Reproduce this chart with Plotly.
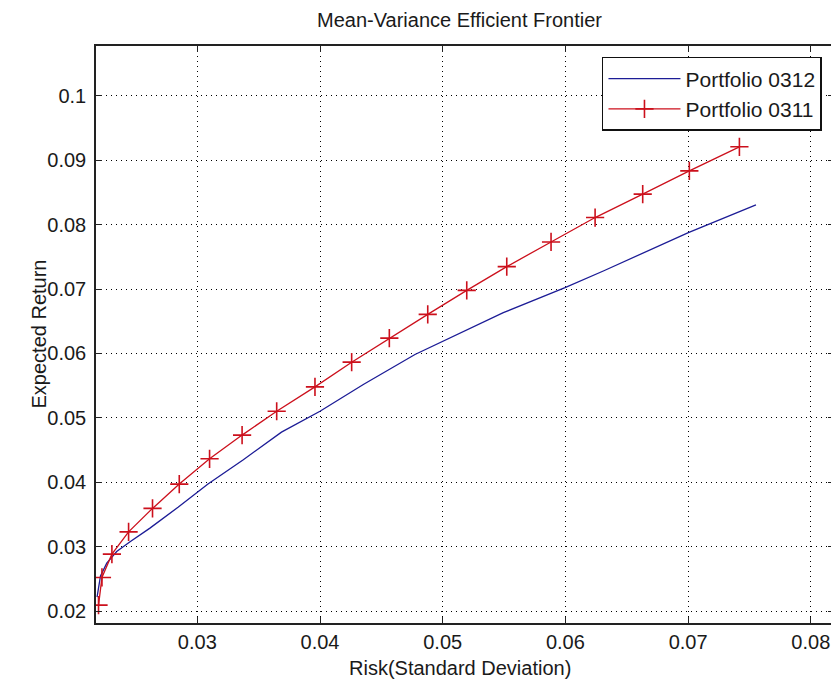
import plotly.graph_objects as go

# Portfolio 0311 (line with + markers)
risk_0311 = [0.02195, 0.02223, 0.02304, 0.02440, 0.02635, 0.02853, 0.03100, 0.03365,
             0.03647, 0.03959, 0.04258, 0.04565, 0.04878, 0.05196, 0.05522, 0.05883,
             0.06242, 0.06630, 0.07010, 0.07418]
ret_0311 = [0.02093, 0.02523, 0.02885, 0.03231, 0.03595, 0.03972, 0.04365, 0.04733,
            0.05103, 0.05482, 0.05865, 0.06238, 0.06607, 0.06980, 0.07348, 0.07731,
            0.08110, 0.08473, 0.08835, 0.09208]

# Portfolio 0312 (line only)
risk_0312 = [0.02183, 0.02195, 0.02211, 0.02262, 0.02343, 0.02452, 0.02614, 0.02843,
             0.03087, 0.03375, 0.03686, 0.04000, 0.04353, 0.04774, 0.05005, 0.05494,
             0.05997, 0.06309, 0.07002, 0.07553]
ret_0312 = [0.02219, 0.02361, 0.02547, 0.02745, 0.02925, 0.03076, 0.03289, 0.03613,
            0.03975, 0.04351, 0.04779, 0.05103, 0.05518, 0.05984, 0.06191, 0.06633,
            0.07022, 0.07280, 0.07877, 0.08306]

x_ticks = [0.03, 0.04, 0.05, 0.06, 0.07, 0.08]
x_tick_labels = ["0.03", "0.04", "0.05", "0.06", "0.07", "0.08"]
y_ticks = [0.02, 0.03, 0.04, 0.05, 0.06, 0.07, 0.08, 0.09, 0.1]
y_tick_labels = ["0.02", "0.03", "0.04", "0.05", "0.06", "0.07", "0.08", "0.09", "0.1"]

title_text = "Mean-Variance Efficient Frontier"
x_title = "Risk(Standard Deviation)"
y_title = "Expected Return"

FONT = "Liberation Sans, Arial, sans-serif"
TXT = "#1a1a1a"

fig = go.Figure()
fig.add_trace(go.Scatter(
    x=risk_0312, y=ret_0312, mode="lines", name="Portfolio 0312",
    line=dict(color="#1c1c96", width=1.3),
))
fig.add_trace(go.Scatter(
    x=risk_0311, y=ret_0311, mode="lines+markers", name="Portfolio 0311",
    line=dict(color="#cc101c", width=1.3),
    marker=dict(symbol="cross-thin-open", size=13, color="#cc101c",
                line=dict(color="#cc101c", width=1.6)),
))

axis_common = dict(
    showline=True, linecolor="#222222", linewidth=1.5, mirror="ticks",
    ticks="inside", ticklen=6, tickcolor="#222222", tickwidth=1.2,
    showgrid=True, gridcolor="#000000", gridwidth=1, griddash="1px,4px",
    zeroline=False, tickfont=dict(family=FONT, size=20, color=TXT),
)

fig.update_xaxes(range=[0.021744, 0.08189], tickvals=x_ticks, ticktext=x_tick_labels,
                 ticklabelstandoff=0, **axis_common)
fig.update_yaxes(range=[0.01816, 0.10773], tickvals=y_ticks, ticktext=y_tick_labels,
                 ticklabelstandoff=4, **axis_common)

fig.update_layout(
    width=834, height=687,
    margin=dict(l=96, r=0, t=46, b=64, autoexpand=False),
    paper_bgcolor="white", plot_bgcolor="white",
    font=dict(family=FONT, size=20, color=TXT),
    showlegend=True,
    legend=dict(
        x=0.9837, y=0.981, xanchor="right", yanchor="top",
        bgcolor="white", bordercolor="#111111", borderwidth=1.5,
        font=dict(family=FONT, size=21, color=TXT),
        itemwidth=72, tracegroupgap=0,
    ),
    annotations=[
        dict(text=title_text, xref="paper", yref="paper", x=0.4932, y=1 + (46 - 20) / 577,
             xanchor="center", yanchor="middle", showarrow=False,
             font=dict(family=FONT, size=20, color=TXT)),
        dict(text=x_title, xref="paper", yref="paper", x=0.4932, y=-(668 - 623) / 577,
             xanchor="center", yanchor="middle", showarrow=False,
             font=dict(family=FONT, size=20, color=TXT)),
        dict(text=y_title, xref="paper", yref="paper", x=-(96 - 38) / 738, y=0.5,
             xanchor="center", yanchor="middle", showarrow=False, textangle=-90,
             font=dict(family=FONT, size=20, color=TXT)),
    ],
)

fig.write_html("out.html",
               post_script="document.body.style.overflow='hidden';document.documentElement.style.overflow='hidden';")
